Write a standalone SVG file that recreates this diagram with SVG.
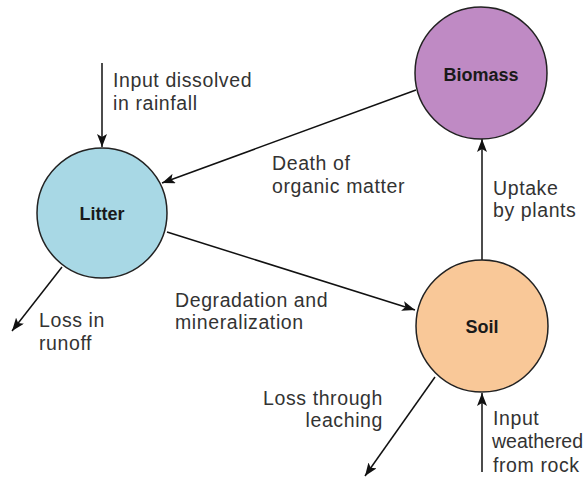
<svg xmlns="http://www.w3.org/2000/svg" width="587" height="479" viewBox="0 0 587 479">
<defs>
<marker id="ah" markerUnits="userSpaceOnUse" markerWidth="14" markerHeight="10" refX="13" refY="5" orient="auto">
<path d="M0,0 L13,5 L0,10 L3,5 Z" fill="#111"/>
</marker>
<style>
.node{stroke:#222;stroke-width:1.5}
.nl{font-family:"Liberation Sans",Arial,sans-serif;font-weight:bold;font-size:18px;fill:#1a1a1a;text-anchor:middle}
.lb{font-family:"Liberation Sans",Arial,sans-serif;font-size:19.5px;fill:#333;letter-spacing:0.6px}
.tight{letter-spacing:0px}
.c{stroke:#111;stroke-width:1.5;fill:none;marker-end:url(#ah)}
</style>
</defs>
<rect width="587" height="479" fill="#fff"/>
<g id="connectors">
<line class="c" x1="102" y1="63" x2="102" y2="147"/>
<line class="c" x1="416" y1="90" x2="162" y2="183"/>
<line class="c" x1="167" y1="232" x2="415" y2="310"/>
<line class="c" x1="62" y1="267" x2="12" y2="331"/>
<line class="c" x1="482" y1="260" x2="482" y2="139"/>
<line class="c" x1="435" y1="377" x2="365" y2="476"/>
<line class="c" x1="482" y1="472" x2="482" y2="393"/>
</g>
<g id="litter">
<circle class="node" cx="102" cy="213" r="65" fill="#a8d8e5"/>
<text class="nl" x="102" y="220">Litter</text>
</g>
<g id="biomass">
<circle class="node" cx="481" cy="73" r="66" fill="#bf8ac4"/>
<text class="nl" x="481" y="81">Biomass</text>
</g>
<g id="soil">
<circle class="node" cx="482" cy="326" r="66" fill="#f9c898"/>
<text class="nl" x="482" y="333">Soil</text>
</g>
<g id="labels">
<text class="lb" x="113" y="87">Input dissolved</text>
<text class="lb" x="113" y="110">in rainfall</text>
<text class="lb" x="272" y="170">Death of</text>
<text class="lb" x="272" y="193">organic matter</text>
<text class="lb" x="493" y="195">Uptake</text>
<text class="lb" x="493" y="217">by plants</text>
<text class="lb" x="175" y="307">Degradation and</text>
<text class="lb" x="175" y="329">mineralization</text>
<text class="lb" x="39" y="327">Loss in</text>
<text class="lb" x="39" y="350">runoff</text>
<text class="lb" x="383" y="405" text-anchor="end">Loss through</text>
<text class="lb" x="383" y="427" text-anchor="end">leaching</text>
<text class="lb" x="493" y="425">Input</text>
<text class="lb tight" x="492" y="448" font-size="19">weathered</text>
<text class="lb" x="493" y="472">from rock</text>
</g>
</svg>
